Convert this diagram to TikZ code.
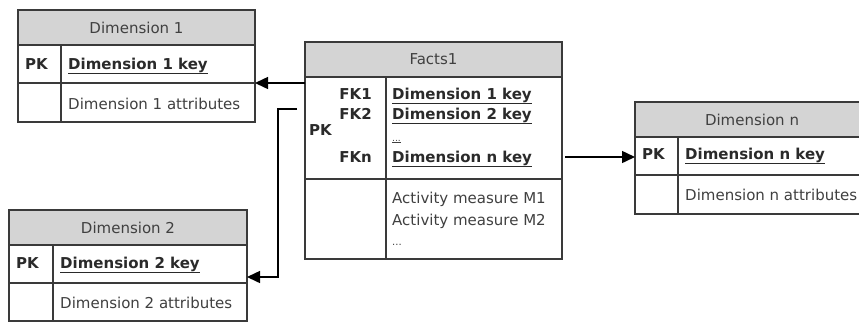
\documentclass[tikz,border=0pt]{standalone}
\usepackage{fontspec}
\setmainfont{DejaVu Sans}
\usetikzlibrary{arrows.meta,calc}
\definecolor{linec}{HTML}{3A3A3A}
\definecolor{hdrc}{HTML}{D4D4D4}
\definecolor{txtc}{HTML}{404040}
\definecolor{keyc}{HTML}{2A2A2A}
\begin{document}
\begin{tikzpicture}[x=1pt,y=-1pt,
  cell/.style={draw=linec, line width=1.5pt, anchor=north west, inner sep=0pt, outer sep=0pt},
  hdr/.style={cell, fill=hdrc, font=\fontsize{15}{18}\selectfont, text=txtc},
  lbl/.style={anchor=base west, inner sep=0pt, font=\fontsize{15}{18}\selectfont, text=txtc},
  key/.style={lbl, font=\fontsize{15}{18}\selectfont\bfseries, text=keyc},
  arr/.style={draw=black, line width=1.5pt, -{Triangle[length=13pt,width=12pt]}}]
\clip (0,0) rectangle (859,322);
\fill[white] (0,0) rectangle (859,322);

% ---------- Dimension 1 ----------
\node[hdr, minimum width=237pt, minimum height=35pt] (d1h) at (18,10) {Dimension 1};
\node[cell, minimum width=43pt, minimum height=38pt] (d1p) at (18,45) {};
\node[cell, minimum width=194pt, minimum height=38pt] (d1k) at (61,45) {};
\node[cell, minimum width=43pt, minimum height=39pt] (d1e) at (18,83) {};
\node[cell, minimum width=194pt, minimum height=39pt] (d1a) at (61,83) {};
\node[key] (d1pt) at (25,69) {PK};
\node[key] (d1kt) at (68,69) {\underline{Dimension 1 key}};
\node[lbl] (d1at) at (68,109) {Dimension 1 attributes};

% ---------- Facts1 ----------
\node[hdr, minimum width=257pt, minimum height=35pt] (fh) at (305,42) {Facts1};
\node[cell, minimum width=81pt, minimum height=102pt] (fkl) at (305,77) {};
\node[cell, minimum width=176pt, minimum height=102pt] (fkr) at (386,77) {};
\node[cell, minimum width=81pt, minimum height=80pt] (fml) at (305,179) {};
\node[cell, minimum width=176pt, minimum height=80pt] (fmr) at (386,179) {};
\node[key, anchor=base east] (ffk1) at (372,99) {FK1};
\node[key, anchor=base east] (ffk2) at (372,119) {FK2};
\node[key] (fpk) at (309,135) {PK};
\node[key, anchor=base east] (ffkn) at (372,162) {FKn};
\node[key] (fk1) at (392,99) {\underline{Dimension 1 key}};
\node[key] (fk2) at (392,119) {\underline{Dimension 2 key}};
\node[lbl, font=\fontsize{9}{10}\selectfont] (fdots) at (392,141) {\underline{...}};
\node[key] (fkn) at (392,162) {\underline{Dimension n key}};
\node[lbl] (fm1) at (392,203) {Activity measure M1};
\node[lbl] (fm2) at (392,225) {Activity measure M2};
\node[lbl, font=\fontsize{10}{12}\selectfont] (fm3) at (392,245) {...};

% ---------- Dimension n ----------
\node[hdr, minimum width=234pt, minimum height=35pt] (dnh) at (635,102) {Dimension n};
\node[cell, minimum width=43pt, minimum height=38pt] (dnp) at (635,137) {};
\node[cell, minimum width=191pt, minimum height=38pt] (dnk) at (678,137) {};
\node[cell, minimum width=43pt, minimum height=39pt] (dne) at (635,175) {};
\node[cell, minimum width=191pt, minimum height=39pt] (dna) at (678,175) {};
\node[key] (dnpt) at (642,159) {PK};
\node[key] (dnkt) at (685,159) {\underline{Dimension n key}};
\node[lbl] (dnat) at (685,200) {Dimension n attributes};

% ---------- Dimension 2 ----------
\node[hdr, minimum width=238pt, minimum height=35pt] (d2h) at (9,210) {Dimension 2};
\node[cell, minimum width=44pt, minimum height=38pt] (d2p) at (9,245) {};
\node[cell, minimum width=194pt, minimum height=38pt] (d2k) at (53,245) {};
\node[cell, minimum width=44pt, minimum height=38pt] (d2e) at (9,283) {};
\node[cell, minimum width=194pt, minimum height=38pt] (d2a) at (53,283) {};
\node[key] (d2pt) at (16,268) {PK};
\node[key] (d2kt) at (60,268) {\underline{Dimension 2 key}};
\node[lbl] (d2at) at (60,308) {Dimension 2 attributes};

% ---------- connectors ----------
\draw[arr] (fkl.west |- d1a.north) -- (d1a.north east);
\coordinate (s2) at (297,109);
\coordinate (e2) at ($(d2k.south east)+(0,-6)$);
\draw[arr] (s2) -- ++(-19,0) |- (e2);
\coordinate (s3) at (565,157);
\draw[arr] (s3) -- (dnp.west |- s3);
\end{tikzpicture}
\end{document}
